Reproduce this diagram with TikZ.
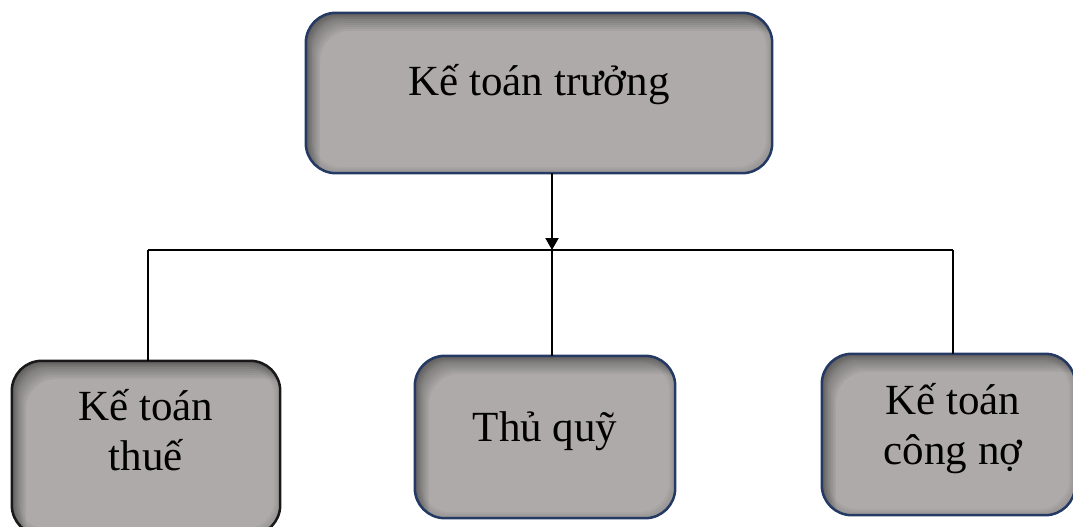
\documentclass[tikz,border=0pt]{standalone}
\usepackage{fontspec}
\setmainfont{Liberation Serif}
\usetikzlibrary{arrows.meta}
\definecolor{boxfill}{HTML}{AEAAAA}
\definecolor{navy}{RGB}{36,58,100}
\definecolor{darkline}{RGB}{25,25,25}
\tikzset{
  orgbox/.style={rectangle, rounded corners=30pt, fill=boxfill, inner sep=0pt},
  lbl/.style={font=\fontsize{43}{50}\selectfont, align=center, inner sep=0pt},
  conn/.style={line width=2pt, black},
}
\newcommand\innershadow[2]{%
  \begin{scope}
    \clip[rounded corners=30pt] (#1.south west) rectangle (#1.north east);
    \foreach \k in {1,...,9}{
      \fill[black, opacity=0.045, even odd rule]
        ([xshift=-50pt,yshift=-50pt]#1.south west) rectangle ([xshift=50pt,yshift=50pt]#1.north east)
        [rounded corners=30pt] ([xshift=1.6*\k pt,yshift=-2*\k pt]#1.south west) rectangle ([xshift=1.6*\k pt,yshift=-2*\k pt]#1.north east);
    }
    \foreach \k in {1,...,4}{
      \fill[black, opacity=0.03, even odd rule]
        ([xshift=-50pt,yshift=-50pt]#1.south west) rectangle ([xshift=50pt,yshift=50pt]#1.north east)
        [rounded corners=30pt] ([xshift=1.5*\k pt,yshift=1.5*\k pt]#1.south west) rectangle ([xshift=-1.5*\k pt,yshift=-1.5*\k pt]#1.north east);
    }
  \end{scope}
  \draw[#2, line width=2.5pt, rounded corners=30pt] (#1.south west) rectangle (#1.north east);}
\begin{document}
\begin{tikzpicture}[x=1pt,y=-1pt]
\useasboundingbox (0,0) rectangle (1073,527);
% boxes
\node[orgbox, minimum width=466pt, minimum height=160pt] (top) at (539,93) {};
\innershadow{top}{navy}
\node[orgbox, minimum width=268pt, minimum height=174pt] (left) at (146,448) {};
\innershadow{left}{darkline}
\node[orgbox, minimum width=260pt, minimum height=162pt] (mid) at (545,437) {};
\innershadow{mid}{navy}
\node[orgbox, minimum width=253pt, minimum height=161pt] (right) at (948.5,434.5) {};
\innershadow{right}{navy}
% labels
\node[lbl, anchor=base] (topT) at (539,95) {Kế toán trưởng};
\node[lbl, anchor=base] (leftT) at (146,470) {Kế toán\\thuế};
\node[lbl, anchor=base] (midT) at (545,441) {Thủ quỹ};
\node[lbl, anchor=base] (rightT) at (953,464) {Kế toán\\công nợ};
% connectors
\coordinate (j) at (552,250);
\coordinate (hl) at (148,250);
\coordinate (hr) at (953,250);
\draw[conn, -{Triangle[length=12pt,width=13pt]}] (top.south -| j) -- (j);
\draw[conn] (hl) -- (hr);
\draw[conn] (hl) -- (left.north -| hl);
\draw[conn] (j) -- (mid.north -| j);
\draw[conn] (hr) -- (right.north -| hr);
\end{tikzpicture}
\end{document}
